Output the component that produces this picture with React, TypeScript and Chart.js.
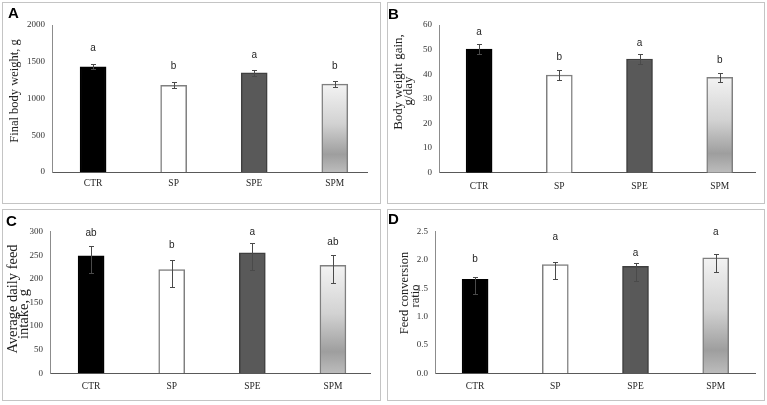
import React, { useEffect, useRef } from 'react';
import { Chart, registerables } from 'chart.js';

Chart.register(...registerables);

// ---------- data ----------
const categories = ['CTR', 'SP', 'SPE', 'SPM'];

// A: Final body weight, g
const finalWeight = [1430, 1180, 1350, 1195];
const finalWeightErrUp = [35, 40, 40, 38];
const finalWeightErrDown = [35, 40, 40, 38];
const finalWeightSig = ['a', 'b', 'a', 'b'];
const finalWeightSigAt = [1690, 1440, 1590, 1440];

// B: Body weight gain, g/day
const weightGain = [50.2, 39.7, 46.2, 38.7];
const weightGainErrUp = [2.0, 1.9, 1.9, 1.9];
const weightGainErrDown = [2.0, 1.9, 1.9, 1.9];
const weightGainSig = ['a', 'b', 'a', 'b'];
const weightGainSigAt = [57, 46.7, 52.6, 45.8];

// C: Average daily feed intake, g
const feedIntake = [249, 220, 255, 229];
const feedIntakeErrUp = [21, 21, 22, 21];
const feedIntakeErrDown = [37, 38, 36, 38];
const feedIntakeSig = ['ab', 'b', 'a', 'ab'];
const feedIntakeSigAt = [296.6, 270.3, 298.7, 278.6];

// D: Feed conversion ratio
const fcr = [1.66, 1.92, 1.89, 2.04];
const fcrErrUp = [0.04, 0.05, 0.05, 0.06];
const fcrErrDown = [0.26, 0.25, 0.26, 0.26];
const fcrSig = ['b', 'a', 'a', 'a'];
const fcrSigAt = [2.02, 2.41, 2.12, 2.49];

// ---------- styling ----------
const SERIF = '"Liberation Serif", "Times New Roman", serif';
const SANS = '"Liberation Sans", Arial, sans-serif';
const barFills = ['#000000', '#ffffff', '#595959', 'gradient'];
const barBorders = ['#000000', '#7f7f7f', '#3f3f3f', '#7f7f7f'];

type TitleLine = { text: string; x: number; y: number };

type Spec = {
  letter: string;
  letterPos: { left: number; top: number };
  box: { left: number; top: number; width: number; height: number };
  area: { left: number; right: number; top: number; bottom: number };
  xRange: [number, number];
  yMax: number;
  yStep: number;
  decimals: number;
  xPad: number;
  title: TitleLine[];
  titleSize: number;
  values: number[];
  errUp: number[];
  errDown: number[];
  sig: string[];
  sigAt: number[];
};

const specs: Spec[] = [
  {
    letter: 'A', letterPos: { left: 8, top: 5 },
    box: { left: 2, top: 2, width: 379, height: 202 },
    area: { left: 50, right: 365, top: 23, bottom: 170 },
    xRange: [-0.51, 3.4], yMax: 2000, yStep: 500, decimals: 0, xPad: 6,
    title: [{ text: 'Final body weight, g', x: 13, y: 89 }], titleSize: 12.5,
    values: finalWeight, errUp: finalWeightErrUp, errDown: finalWeightErrDown,
    sig: finalWeightSig, sigAt: finalWeightSigAt,
  },
  {
    letter: 'B', letterPos: { left: 388, top: 6 },
    box: { left: 387, top: 2, width: 378, height: 202 },
    area: { left: 52, right: 368, top: 23, bottom: 170.7 },
    xRange: [-0.5, 3.44], yMax: 60, yStep: 10, decimals: 0, xPad: 8,
    title: [
      { text: 'Body weight gain,', x: 12, y: 80 },
      { text: 'g/day', x: 22, y: 89 },
    ],
    titleSize: 13,
    values: weightGain, errUp: weightGainErrUp, errDown: weightGainErrDown,
    sig: weightGainSig, sigAt: weightGainSigAt,
  },
  {
    letter: 'C', letterPos: { left: 6, top: 213 },
    box: { left: 2, top: 209, width: 379, height: 192 },
    area: { left: 48, right: 368, top: 22.7, bottom: 164.3 },
    xRange: [-0.51, 3.46], yMax: 300, yStep: 50, decimals: 0, xPad: 7,
    title: [
      { text: 'Average daily feed', x: 11, y: 90 },
      { text: 'intake, g', x: 22, y: 105 },
    ],
    titleSize: 14.5,
    values: feedIntake, errUp: feedIntakeErrUp, errDown: feedIntakeErrDown,
    sig: feedIntakeSig, sigAt: feedIntakeSigAt,
  },
  {
    letter: 'D', letterPos: { left: 388, top: 211 },
    box: { left: 387, top: 209, width: 378, height: 192 },
    area: { left: 48, right: 368, top: 22.7, bottom: 164.3 },
    xRange: [-0.5, 3.49], yMax: 2.5, yStep: 0.5, decimals: 1, xPad: 7,
    title: [
      { text: 'Feed conversion', x: 18, y: 84 },
      { text: 'ratio', x: 29, y: 87 },
    ],
    titleSize: 12.5,
    values: fcr, errUp: fcrErrUp, errDown: fcrErrDown,
    sig: fcrSig, sigAt: fcrSigAt,
  },
];

function Panel({ spec }: { spec: Spec }) {
  const ref = useRef<HTMLCanvasElement | null>(null);

  useEffect(() => {
    if (!ref.current) return;
    const s = spec;

    const annotate = {
      id: 'annotate',
      afterDatasetsDraw(chart: any) {
        const ctx = chart.ctx;
        const y = chart.scales.y;
        const meta = chart.getDatasetMeta(0);
        ctx.save();
        // error bars
        ctx.strokeStyle = '#4a4a4a';
        ctx.lineWidth = 1;
        meta.data.forEach((el: any, i: number) => {
          const v = s.values[i];
          const yt = Math.round(y.getPixelForValue(v + s.errUp[i])) + 0.5;
          const yb = Math.round(y.getPixelForValue(v - s.errDown[i])) + 0.5;
          const x = Math.round(el.x) + 0.5;
          ctx.beginPath();
          ctx.moveTo(x, yt); ctx.lineTo(x, yb);
          ctx.moveTo(x - 2.5, yt); ctx.lineTo(x + 2.5, yt);
          ctx.moveTo(x - 2.5, yb); ctx.lineTo(x + 2.5, yb);
          ctx.stroke();
        });
        // significance letters
        ctx.fillStyle = '#262626';
        ctx.font = `10px ${SANS}`;
        ctx.textAlign = 'center';
        ctx.textBaseline = 'middle';
        meta.data.forEach((el: any, i: number) => {
          ctx.fillText(s.sig[i], el.x, y.getPixelForValue(s.sigAt[i]));
        });
        // y-axis title
        ctx.fillStyle = '#222222';
        ctx.font = `${s.titleSize}px ${SERIF}`;
        s.title.forEach((t) => {
          ctx.save();
          ctx.translate(t.x, t.y);
          ctx.rotate(-Math.PI / 2);
          ctx.fillText(t.text, 0, 0);
          ctx.restore();
        });
        ctx.restore();
      },
    };

    const chart = new Chart(ref.current, {
      type: 'bar',
      data: {
        datasets: [
          {
            data: s.values.map((v, i) => ({ x: i, y: v })) as any,
            backgroundColor: (c: any) => {
              const i = c.dataIndex;
              if (barFills[i] !== 'gradient') return barFills[i];
              const ch = c.chart;
              if (!ch.chartArea || !ch.scales.y) return '#cccccc';
              const yS = ch.scales.y;
              const top = yS.getPixelForValue(s.values[i]);
              const bot = yS.getPixelForValue(0);
              const g = ch.ctx.createLinearGradient(0, top, 0, bot);
              g.addColorStop(0, '#f3f3f3');
              g.addColorStop(0.45, '#d2d2d2');
              g.addColorStop(0.8, '#9e9e9e');
              g.addColorStop(1, '#bcbcbc');
              return g;
            },
            borderColor: barBorders,
            borderWidth: 1.5,
            barThickness: 26,
          } as any,
        ],
      },
      options: {
        responsive: false,
        maintainAspectRatio: false,
        animation: false,
        layout: {
          padding: {
            left: 0,
            top: s.area.top,
            right: s.box.width - s.area.right,
            bottom: 0,
          },
        },
        plugins: {
          legend: { display: false },
          tooltip: { enabled: false },
        },
        scales: {
          x: {
            type: 'linear',
            min: s.xRange[0],
            max: s.xRange[1],
            bounds: 'data',
            offset: false,
            grid: { display: false, drawTicks: false },
            border: { display: true, color: '#595959', width: 1 },
            ticks: {
              autoSkip: false,
              maxRotation: 0,
              padding: s.xPad,
              color: '#262626',
              font: { family: SERIF, size: 9.5 },
              callback: (v: any) => categories[Number(v)] ?? '',
            },
            afterBuildTicks: (scale: any) => {
              scale.ticks = categories.map((_, i) => ({ value: i }));
            },
            afterFit: (scale: any) => {
              scale.height = s.box.height - s.area.bottom;
            },
          },
          y: {
            min: 0,
            max: s.yMax,
            grid: { display: false, drawTicks: false },
            border: { display: true, color: '#8c8c8c', width: 1 },
            ticks: {
              stepSize: s.yStep,
              padding: 7,
              color: '#333333',
              font: { family: SERIF, size: 9 },
              callback: (v: any) => Number(v).toFixed(s.decimals),
            },
            afterFit: (scale: any) => {
              scale.width = s.area.left;
            },
          },
        },
      } as any,
      plugins: [annotate],
    });

    return () => chart.destroy();
  }, [spec]);

  const b = spec.box;
  return (
    <>
      <div
        style={{
          position: 'absolute',
          left: b.left,
          top: b.top,
          width: b.width,
          height: b.height,
          border: '1px solid #c4c4c4',
          boxSizing: 'border-box',
        }}
      />
      <canvas
        ref={ref}
        width={b.width}
        height={b.height}
        style={{ position: 'absolute', left: b.left, top: b.top, width: b.width, height: b.height }}
      />
      <div
        style={{
          position: 'absolute',
          left: spec.letterPos.left,
          top: spec.letterPos.top,
          fontFamily: SANS,
          fontWeight: 'bold',
          fontSize: 15,
          lineHeight: '15px',
          color: '#000',
        }}
      >
        {spec.letter}
      </div>
    </>
  );
}

export default function App() {
  return (
    <div
      style={{
        position: 'fixed',
        left: 0,
        top: 0,
        width: 767,
        height: 405,
        background: '#ffffff',
        overflow: 'hidden',
      }}
    >
      {specs.map((s) => (
        <Panel key={s.letter} spec={s} />
      ))}
    </div>
  );
}
